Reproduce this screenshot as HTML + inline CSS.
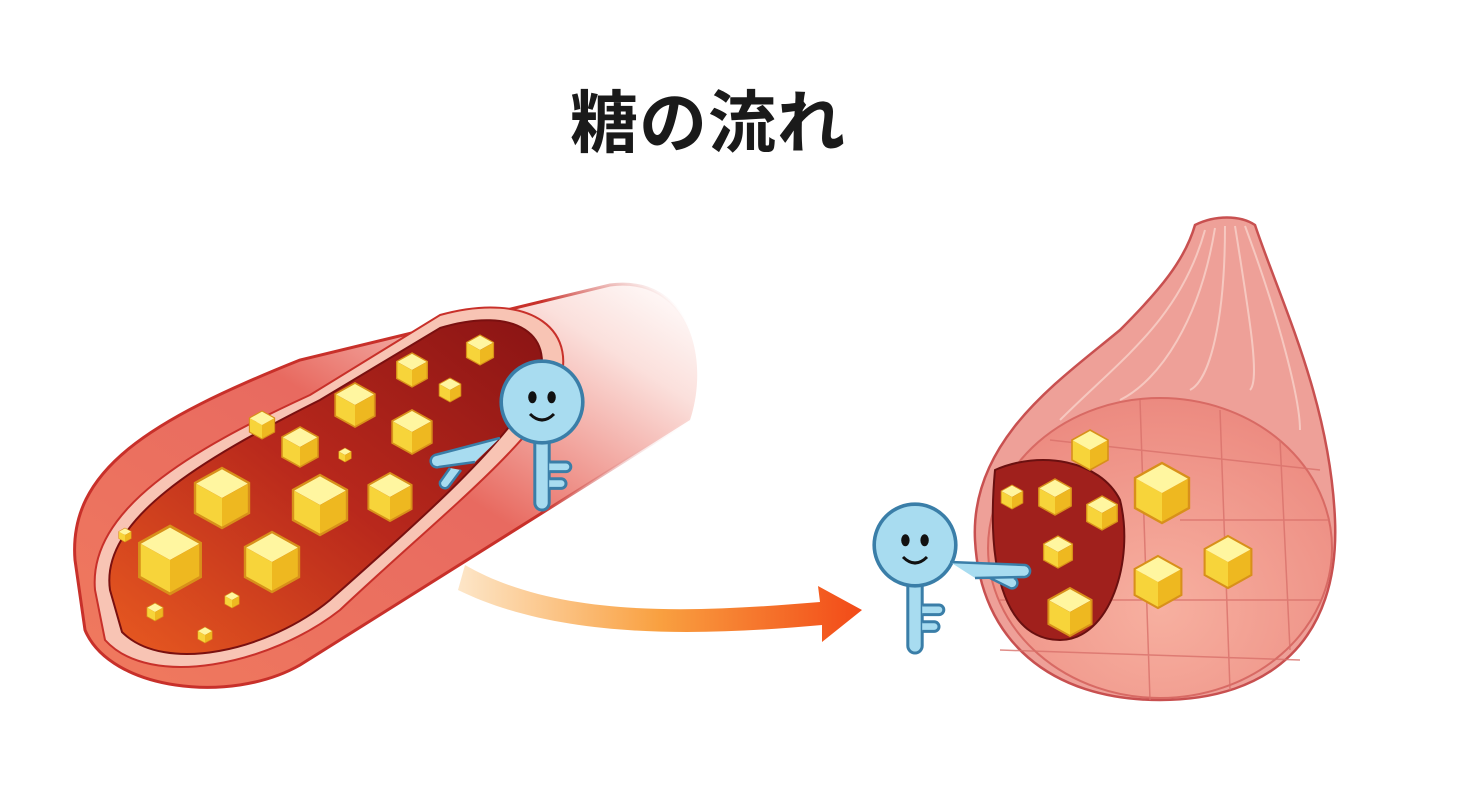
<!DOCTYPE html>
<html><head><meta charset="utf-8"><style>
html,body{margin:0;padding:0;background:#fff;width:1472px;height:812px;overflow:hidden}
.t{position:absolute;left:-28px;width:1472px;top:68px;text-align:center;font:bold 68px "Liberation Sans","Noto Sans CJK JP",sans-serif;color:#1a1a1a;letter-spacing:1px}
</style></head><body>
<div class="t">糖の流れ</div>
<svg width="1472" height="812" style="position:absolute;left:0;top:0">
<defs>
<linearGradient id="ves" x1="0" y1="1" x2="1" y2="0">
<stop offset="0" stop-color="#f07a5e"/><stop offset="0.55" stop-color="#e86a60"/><stop offset="0.85" stop-color="#fbe0dc"/><stop offset="1" stop-color="#ffffff"/></linearGradient>
<linearGradient id="vstroke" x1="0" x2="1">
<stop offset="0" stop-color="#c8302a"/><stop offset="0.75" stop-color="#c8302a"/><stop offset="1" stop-color="#ffffff" stop-opacity="0"/></linearGradient>
<linearGradient id="lum" x1="0" y1="1" x2="1" y2="0">
<stop offset="0" stop-color="#e85a20"/><stop offset="0.5" stop-color="#b8281c"/><stop offset="1" stop-color="#8a1414"/></linearGradient>
<linearGradient id="arr" x1="0" x2="1">
<stop offset="0" stop-color="#fde6c8"/><stop offset="0.5" stop-color="#f9a040"/><stop offset="1" stop-color="#f24a18"/></linearGradient>
<radialGradient id="mus" cx="0.5" cy="0.7" r="0.7">
<stop offset="0" stop-color="#f7b0a0"/><stop offset="1" stop-color="#ec8a80"/></radialGradient>
<g id="cube">
<polygon points="0,-10 9,-5 0,0 -9,-5" fill="#fff6a0"/>
<polygon points="-9,-5 0,0 0,10 -9,5" fill="#f7d43a"/>
<polygon points="9,-5 0,0 0,10 9,5" fill="#eeb820"/>
<polygon points="0,-10 9,-5 9,5 0,10 -9,5 -9,-5" fill="none" stroke="#d8901a" stroke-width="0.8"/>
</g>
<g id="key">
<rect x="-6" y="20" width="12" height="70" rx="6" fill="#a8dcf0" stroke="#3a7ea8" stroke-width="2.5"/>
<path d="M6,50 h14 a4,4 0 0 1 0,8 h-14 M6,64 h10 a4,4 0 0 1 0,8 h-10" fill="#a8dcf0" stroke="#3a7ea8" stroke-width="2.5"/>
<circle cx="0" cy="0" r="34" fill="#a8dcf0" stroke="#3a7ea8" stroke-width="3"/>
<ellipse cx="-8" cy="-4" rx="3.5" ry="5" fill="#111"/>
<ellipse cx="8" cy="-4" rx="3.5" ry="5" fill="#111"/>
<path d="M-10,10 Q0,20 10,10" fill="none" stroke="#111" stroke-width="2.5"/>
</g>
</defs>
<!-- vessel -->
<path d="M75,560 C68,470 150,420 300,360 L610,285 C690,275 710,360 690,420 L300,665 C230,705 110,690 85,630 Z" fill="url(#ves)" stroke="url(#vstroke)" stroke-width="3"/>
<path d="M95,590 C88,510 190,450 310,395 L440,315 C530,290 585,330 555,395 C520,455 430,525 340,610 C270,665 150,690 105,640 Z" fill="#f8c4b4" stroke="#c8302a" stroke-width="2"/>
<path d="M110,590 C100,520 200,460 320,400 L440,328 C515,305 560,335 535,390 C500,450 420,520 330,600 C270,650 165,675 122,632 Z" fill="url(#lum)" stroke="#7a1010" stroke-width="2"/>
<g>
<use href="#cube" transform="translate(170,560) scale(3.4)"/>
<use href="#cube" transform="translate(272,562) scale(3)"/>
<use href="#cube" transform="translate(222,498) scale(3)"/>
<use href="#cube" transform="translate(320,505) scale(3)"/>
<use href="#cube" transform="translate(390,497) scale(2.4)"/>
<use href="#cube" transform="translate(300,447) scale(2)"/>
<use href="#cube" transform="translate(355,405) scale(2.2)"/>
<use href="#cube" transform="translate(412,432) scale(2.2)"/>
<use href="#cube" transform="translate(412,370) scale(1.7)"/>
<use href="#cube" transform="translate(480,350) scale(1.5)"/>
<use href="#cube" transform="translate(262,425) scale(1.4)"/>
<use href="#cube" transform="translate(450,390) scale(1.2)"/>
<use href="#cube" transform="translate(155,612) scale(0.9)"/>
<use href="#cube" transform="translate(205,635) scale(0.8)"/>
<use href="#cube" transform="translate(232,600) scale(0.8)"/>
<use href="#cube" transform="translate(125,535) scale(0.7)"/>
<use href="#cube" transform="translate(345,455) scale(0.7)"/>
</g>
<!-- arrow -->
<path d="M465,565 C560,620 700,612 820,602 L818,586 L862,610 L822,642 L822,625 C700,636 560,640 458,590 Z" fill="url(#arr)"/>
<!-- muscle -->
<path d="M1195,225 C1215,215 1240,215 1255,225 C1280,300 1330,400 1335,520 C1340,640 1270,700 1160,700 C1050,700 980,640 975,540 C970,440 1060,380 1120,330 C1160,290 1185,260 1195,225 Z" fill="#eea098" stroke="#c85050" stroke-width="2.5"/>
<g stroke="#f6c8c0" stroke-width="2" fill="none">
<path d="M1205,230 C1180,320 1120,360 1060,420"/><path d="M1215,228 C1200,320 1160,380 1120,400"/>
<path d="M1225,226 C1225,320 1210,380 1190,390"/><path d="M1235,226 C1250,320 1260,380 1250,390"/>
<path d="M1245,226 C1280,320 1300,400 1300,430"/>
</g>
<ellipse cx="1160" cy="548" rx="172" ry="150" fill="url(#mus)" stroke="#d86a64" stroke-width="2"/>
<g stroke="#d8706a" stroke-width="1.5" fill="none" opacity="0.8">
<path d="M1140,400 L1150,700 M1220,410 L1230,690 M1280,440 L1290,650 M1000,600 L1320,600 M1000,650 L1300,660 M1050,440 L1320,470 M1180,520 L1330,520"/>
</g>
<path d="M995,470 C1040,450 1100,460 1120,500 C1135,560 1110,640 1060,640 C1010,640 985,580 995,470 Z" fill="#a0201c" stroke="#6a1010" stroke-width="2"/>
<use href="#cube" transform="translate(1162,493) scale(3)"/>
<use href="#cube" transform="translate(1228,562) scale(2.6)"/>
<use href="#cube" transform="translate(1158,582) scale(2.6)"/>
<use href="#cube" transform="translate(1070,612) scale(2.4)"/>
<use href="#cube" transform="translate(1090,450) scale(2)"/>
<use href="#cube" transform="translate(1055,497) scale(1.8)"/>
<use href="#cube" transform="translate(1102,513) scale(1.7)"/>
<use href="#cube" transform="translate(1058,552) scale(1.6)"/>
<use href="#cube" transform="translate(1012,497) scale(1.2)"/>
<!-- keys -->
<path d="M500,438 L435,455 a6,6 0 0 0 4,12 L475,462 M450,468 l-10,14 a5,5 0 0 0 9,4 l12,-16" fill="#a8dcf0" stroke="#3a7ea8" stroke-width="2.5"/>
<g transform="translate(542,402) scale(1.2)"><use href="#key"/></g>
<g transform="translate(915,545) scale(1.2)"><use href="#key"/></g>
<path d="M950,562 L1025,565 a6,6 0 0 1 -2,12 L975,578 M990,578 l20,10 a5,5 0 0 0 4,-10" fill="#a8dcf0" stroke="#3a7ea8" stroke-width="2.5"/>
</svg>
</body></html>
